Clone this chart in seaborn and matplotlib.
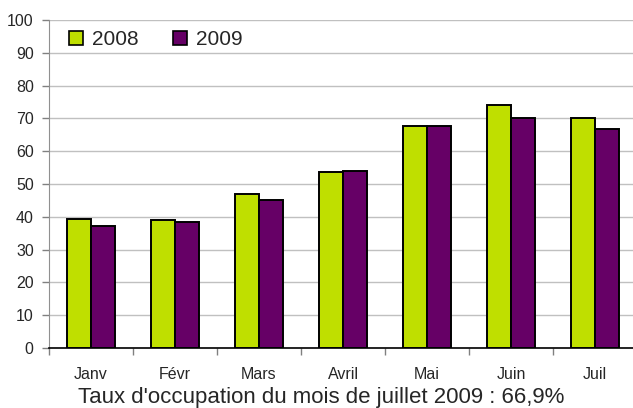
import numpy as np
import pandas as pd
import matplotlib
matplotlib.use("Agg")
import matplotlib.pyplot as plt
import seaborn as sns
from matplotlib.lines import Line2D

# -----------------------------
# DATA
# -----------------------------
months = ["Janv", "Févr", "Mars", "Avril", "Mai", "Juin", "Juil"]
taux_2008 = [39.4, 38.9, 46.9, 53.6, 67.6, 74.2, 70.0]
taux_2009 = [37.1, 38.3, 45.0, 54.1, 67.6, 70.0, 66.9]
years = ["2008", "2009"]
colors = ["#bfdf00", "#660066"]

df = pd.DataFrame({
    "mois": months * 2,
    "annee": [years[0]] * len(months) + [years[1]] * len(months),
    "taux": taux_2008 + taux_2009,
})

# -----------------------------
# PLOT
# -----------------------------
sns.set_style("white")
plt.rcParams["font.family"] = ["Liberation Sans", "DejaVu Sans"]

fig = plt.figure(figsize=(6.33, 4.08), dpi=100)
ax = fig.add_axes([49 / 633, 60 / 408, 588 / 633, 328 / 408])

sns.barplot(data=df, x="mois", y="taux", hue="annee", order=months,
            hue_order=years, palette=colors, width=0.57, saturation=1,
            edgecolor="black", linewidth=1.4, ax=ax, legend=False)

ax.set_ylim(0, 100)
ax.set_xlim(-0.5, len(months) - 0.5)
ax.set_yticks(np.arange(0, 101, 10))
ax.yaxis.grid(True, color="#c0c0c0", linewidth=1)
ax.set_axisbelow(True)
ax.set_xlabel("")
ax.set_ylabel("")

# tick marks between categories, labels at centres
ax.set_xticks(np.arange(len(months)))
ax.set_xticklabels(months, fontsize=11.5)
ax.set_xticks(np.arange(len(months) + 1) - 0.5, minor=True)
ax.tick_params(axis="x", which="major", length=0, pad=14)
ax.tick_params(axis="x", which="minor", length=5, width=1, color="#808080",
               direction="out", bottom=True)
ax.tick_params(axis="y", length=5, width=1, color="#808080", direction="out",
               left=True, labelsize=11.5, pad=6)

for s in ["top", "right"]:
    ax.spines[s].set_visible(False)
ax.spines["left"].set_color("#909090")
ax.spines["bottom"].set_color("black")
ax.spines["bottom"].set_linewidth(1.2)

handles = [Line2D([], [], marker="s", linestyle="", markersize=9.5,
                  markerfacecolor=c, markeredgecolor="black",
                  markeredgewidth=1.2) for c in colors]
ax.legend(handles, years, loc="center left", ncol=2, frameon=False,
          fontsize=15, handlelength=0.8, handletextpad=0.35,
          columnspacing=1.6, bbox_to_anchor=(0.0, 0.94))

fig.text(321 / 633, 10 / 408, "Taux d'occupation du mois de juillet 2009 : 66,9%",
         ha="center", va="center", fontsize=16)

fig.savefig("out.png", dpi=100)
